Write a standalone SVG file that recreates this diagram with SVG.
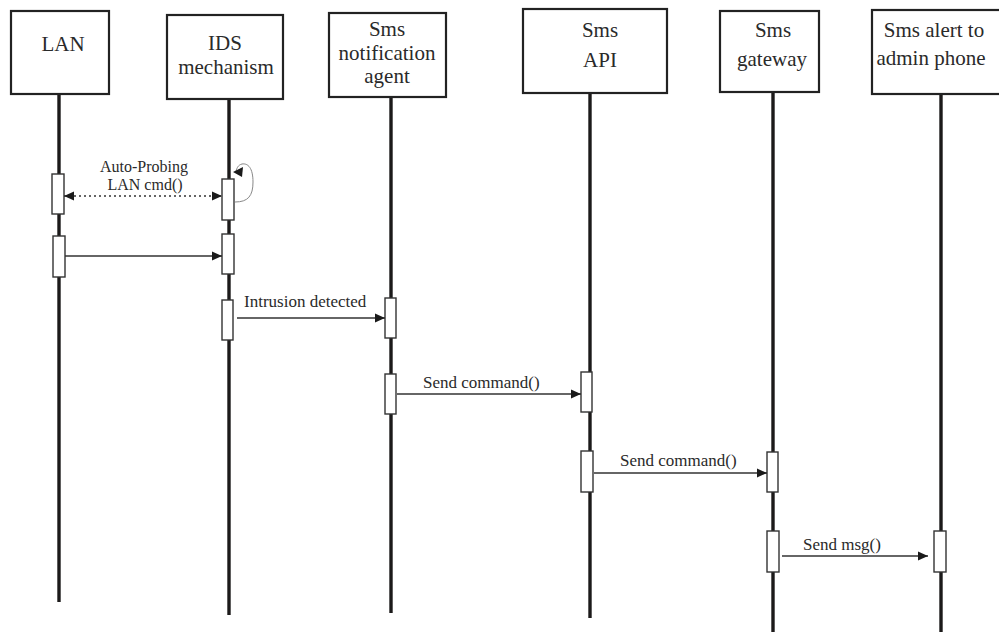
<svg xmlns="http://www.w3.org/2000/svg" width="999" height="632" viewBox="0 0 999 632">
  <defs>
    <style>
      .box { fill: #ffffff; stroke: #222222; stroke-width: 2.2; }
      .life { stroke: #1c1a1a; stroke-width: 3.4; }
      .act { fill: #ffffff; stroke: #333333; stroke-width: 1.4; }
      .msg { stroke: #333333; stroke-width: 1.3; fill: none; }
      .dot { stroke: #333333; stroke-width: 1.4; stroke-dasharray: 2 3; fill: none; }
      .loop { stroke: #888888; stroke-width: 1; fill: none; }
      text { font-family: "Liberation Serif", "Times New Roman", Times, "DejaVu Serif", serif; fill: #2a2a2a; }
      .lbl { font-size: 21px; text-anchor: middle; }
      .mtxt { font-size: 17px; }
      .small { font-size: 16px; text-anchor: middle; }
    </style>
    <marker id="arrow" viewBox="0 0 10 10" refX="10" refY="5" markerWidth="10" markerHeight="10" markerUnits="userSpaceOnUse" orient="auto">
      <path d="M0,0.5 L10,5 L0,9.5 Z" fill="#1a1a1a"/>
    </marker>
    <marker id="arrowStart" viewBox="0 0 10 10" refX="0" refY="5" markerWidth="10" markerHeight="10" markerUnits="userSpaceOnUse" orient="auto">
      <path d="M10,0.5 L0,5 L10,9.5 Z" fill="#1a1a1a"/>
    </marker>
  </defs>

  <rect width="999" height="632" fill="#ffffff"/>

  <!-- lifelines -->
  <g id="lifelines">
    <line class="life" x1="59" y1="94" x2="59" y2="602"/>
    <line class="life" x1="229" y1="99" x2="229" y2="615"/>
    <line class="life" x1="391" y1="97" x2="391" y2="613"/>
    <line class="life" x1="590" y1="93" x2="590" y2="618"/>
    <line class="life" x1="773" y1="92" x2="773" y2="632"/>
    <line class="life" x1="941" y1="94" x2="941" y2="632"/>
  </g>

  <!-- participants -->
  <g id="lan">
    <rect class="box" x="11" y="11" width="98" height="83"/>
    <text class="lbl" x="63" y="51">LAN</text>
    <rect class="act" x="52" y="174" width="12" height="40"/>
    <rect class="act" x="53" y="236" width="12" height="41"/>
  </g>

  <g id="ids">
    <rect class="box" x="167" y="15" width="116" height="84"/>
    <text class="lbl" x="225" y="50">IDS</text>
    <text class="lbl" x="226" y="74">mechanism</text>
    <rect class="act" x="222" y="179" width="12" height="41"/>
    <rect class="act" x="222" y="234" width="12" height="40"/>
    <rect class="act" x="222" y="300" width="11" height="40"/>
  </g>

  <g id="notification-agent">
    <rect class="box" x="329" y="13" width="117" height="84"/>
    <text class="lbl" x="387" y="36">Sms</text>
    <text class="lbl" x="387" y="60">notification</text>
    <text class="lbl" x="387" y="83">agent</text>
    <rect class="act" x="385" y="298" width="11" height="40"/>
    <rect class="act" x="385" y="374" width="11" height="40"/>
  </g>

  <g id="sms-api">
    <rect class="box" x="523" y="9" width="144" height="84"/>
    <text class="lbl" x="600" y="37">Sms</text>
    <text class="lbl" x="600" y="67">API</text>
    <rect class="act" x="581" y="372" width="11" height="40"/>
    <rect class="act" x="581" y="451" width="12" height="41"/>
  </g>

  <g id="sms-gateway">
    <rect class="box" x="720" y="11" width="99" height="81"/>
    <text class="lbl" x="773" y="37">Sms</text>
    <text class="lbl" x="772" y="66">gateway</text>
    <rect class="act" x="767" y="452" width="11" height="40"/>
    <rect class="act" x="767" y="531" width="12" height="41"/>
  </g>

  <g id="admin-phone">
    <rect class="box" x="872" y="10" width="140" height="84"/>
    <text class="lbl" x="934" y="37">Sms alert to</text>
    <text class="lbl" x="931" y="65">admin phone</text>
    <rect class="act" x="934" y="531" width="12" height="41"/>
  </g>

  <!-- messages -->
  <g id="connectors">
    <!-- auto-probing exchange between LAN and IDS -->
    <line class="dot" x1="64" y1="196" x2="222" y2="196" marker-start="url(#arrowStart)" marker-end="url(#arrow)"/>
    <text class="small" x="144" y="172">Auto-Probing</text>
    <text class="small" x="145" y="190">LAN cmd()</text>

    <!-- IDS self call -->
    <path class="loop" d="M235,202 C248,202 253,196 253,182 C253,168 248,163 242,164 C238,165 237,168 236,171"/>
    <path d="M233,172 L243,167 L242,177 Z" fill="#1a1a1a"/>

    <!-- LAN to IDS -->
    <line class="msg" x1="65" y1="256" x2="222" y2="256" marker-end="url(#arrow)"/>

    <!-- intrusion detected -->
    <line class="msg" x1="237" y1="318" x2="385" y2="318" marker-end="url(#arrow)"/>
    <text class="mtxt" x="244" y="307">Intrusion detected</text>

    <!-- send command to API -->
    <line class="msg" x1="397" y1="394" x2="581" y2="394" marker-end="url(#arrow)"/>
    <text class="mtxt" x="423" y="388">Send command()</text>

    <!-- send command to gateway -->
    <line class="msg" x1="594" y1="473" x2="767" y2="473" marker-end="url(#arrow)"/>
    <text class="mtxt" x="620" y="466">Send command()</text>

    <!-- send message to phone -->
    <line class="msg" x1="782" y1="556" x2="928" y2="556" marker-end="url(#arrow)"/>
    <text class="mtxt" x="803" y="550">Send msg()</text>
  </g>
</svg>
